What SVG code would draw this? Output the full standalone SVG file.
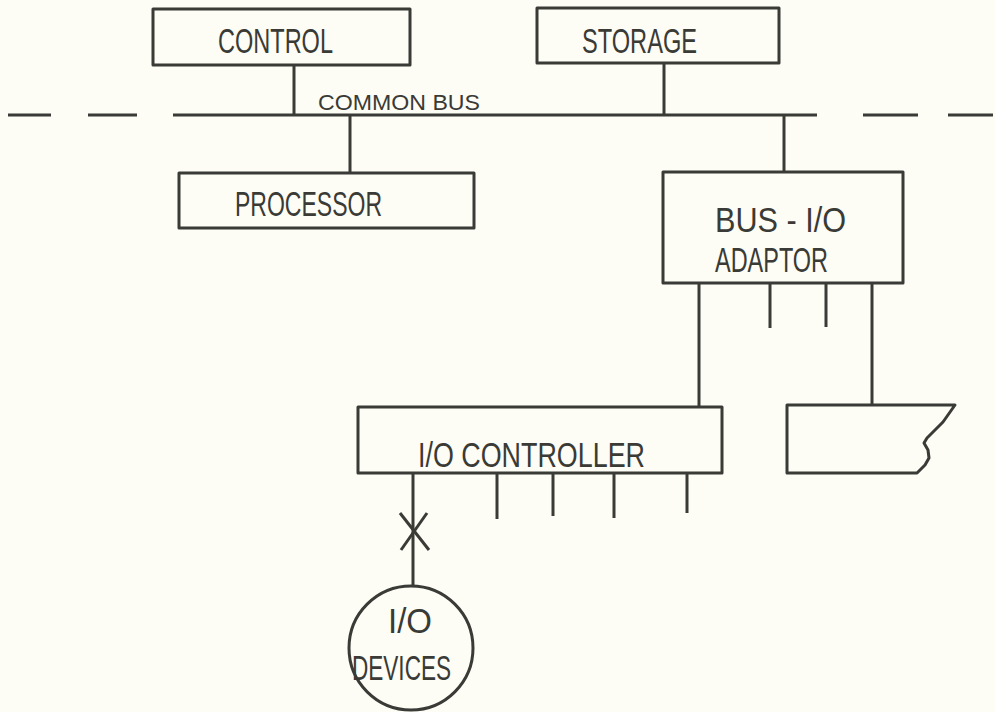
<svg xmlns="http://www.w3.org/2000/svg" width="995" height="712" viewBox="0 0 995 712">
<style>
.ln{stroke:#3a3a36;stroke-width:3;fill:none;stroke-linecap:butt}
.box{stroke:#3a3a36;stroke-width:3;fill:none;stroke-linejoin:round}
.t{font-family:"Liberation Sans",Arial,sans-serif;font-size:35px;fill:#3a3a36}
.s{font-family:"Liberation Sans",Arial,sans-serif;font-size:22px;fill:#3a3a36}
</style>
<rect width="995" height="712" fill="#fdfdf5"/>
<g id="connectors">
<line class="ln" x1="8" y1="115" x2="51" y2="115"/>
<line class="ln" x1="88" y1="115" x2="137" y2="115"/>
<line class="ln" x1="173" y1="115" x2="817" y2="115"/>
<line class="ln" x1="863" y1="115" x2="918" y2="115"/>
<line class="ln" x1="948" y1="115" x2="993" y2="115"/>
<line class="ln" x1="294" y1="65" x2="294" y2="115"/>
<line class="ln" x1="664" y1="63" x2="664" y2="115"/>
<line class="ln" x1="350" y1="115" x2="350" y2="173"/>
<line class="ln" x1="784" y1="115" x2="784" y2="172"/>
<line class="ln" x1="699" y1="283" x2="699" y2="407"/>
<line class="ln" x1="770" y1="283" x2="770" y2="328"/>
<line class="ln" x1="826" y1="283" x2="826" y2="327"/>
<line class="ln" x1="872" y1="283" x2="872" y2="405"/>
<line class="ln" x1="413" y1="473" x2="413" y2="586"/>
<line class="ln" x1="497" y1="473" x2="497" y2="519"/>
<line class="ln" x1="553" y1="473" x2="553" y2="516"/>
<line class="ln" x1="614" y1="473" x2="614" y2="518"/>
<line class="ln" x1="687" y1="473" x2="687" y2="513"/>
<line class="ln" x1="400" y1="513" x2="429" y2="550"/>
<line class="ln" x1="427" y1="513" x2="401" y2="550"/>
</g>
<g id="control">
<rect class="box" x="153" y="9" width="257" height="56"/>
<text class="t" x="218" y="53" textLength="115" lengthAdjust="spacingAndGlyphs">CONTROL</text>
</g>
<g id="storage">
<rect class="box" x="537" y="8" width="242" height="55"/>
<text class="t" x="582" y="53" textLength="115" lengthAdjust="spacingAndGlyphs">STORAGE</text>
</g>
<g id="bus-label">
<text class="s" x="318" y="110" textLength="162" lengthAdjust="spacingAndGlyphs">COMMON BUS</text>
</g>
<g id="processor">
<rect class="box" x="179" y="173" width="295" height="55"/>
<text class="t" x="235" y="216" textLength="147" lengthAdjust="spacingAndGlyphs">PROCESSOR</text>
</g>
<g id="adaptor">
<rect class="box" x="663" y="172" width="240" height="111"/>
<text class="t" x="715" y="232" textLength="131" lengthAdjust="spacingAndGlyphs">BUS - I/O</text>
<text class="t" x="715" y="272" textLength="113" lengthAdjust="spacingAndGlyphs">ADAPTOR</text>
</g>
<g id="io-controller">
<rect class="box" x="358" y="407" width="364" height="66"/>
<text class="t" x="418" y="467" textLength="227" lengthAdjust="spacingAndGlyphs">I/O CONTROLLER</text>
</g>
<g id="other-controller">
<path class="box" d="M787,405 L955,405 L943,422 L927,438 L924,443 L928,450 L929,458 L925,465 L917,473 L787,473 Z"/>
</g>
<g id="io-devices">
<circle class="box" cx="411" cy="648" r="62"/>
<text class="t" x="388" y="633" textLength="44" lengthAdjust="spacingAndGlyphs">I/O</text>
<text class="t" x="352" y="680" textLength="99" lengthAdjust="spacingAndGlyphs">DEVICES</text>
</g>
</svg>
